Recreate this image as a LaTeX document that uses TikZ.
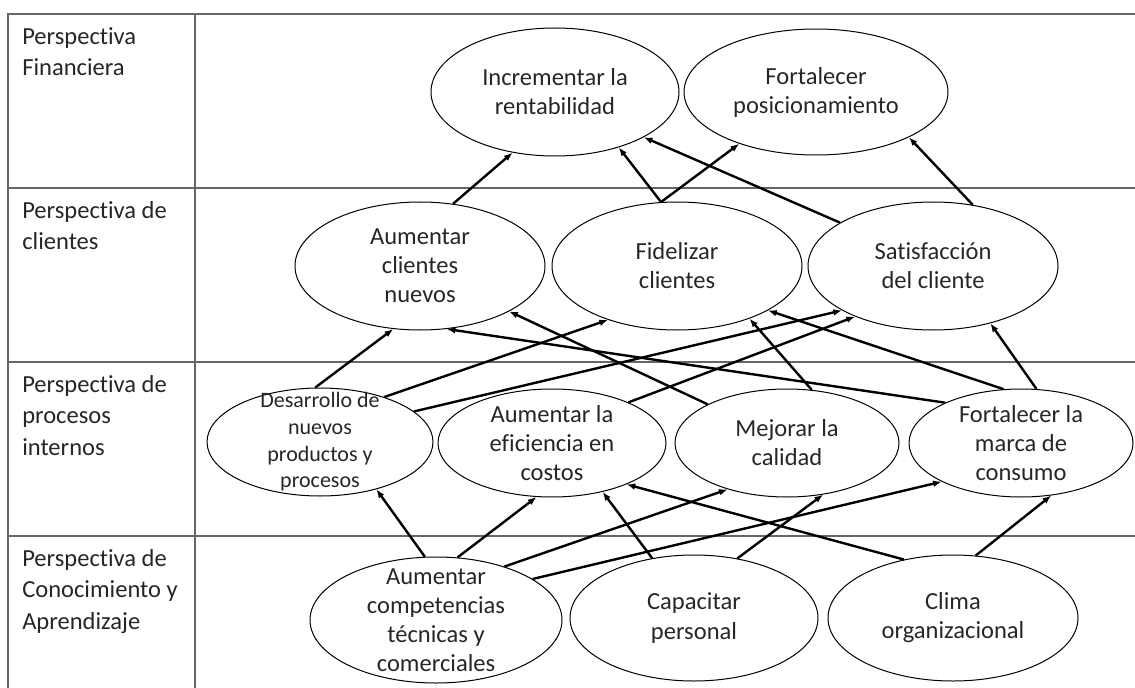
\documentclass[tikz,border=0pt]{standalone}
\usepackage{fontspec}
\setmainfont{Carlito}[Ligatures = NoCommon]
\usetikzlibrary{shapes.geometric,arrows.meta}

\begin{document}
\begin{tikzpicture}[
    x = 0.75pt,
    y = -0.75pt,
    goal/.style = {
        draw,
        ellipse,
        inner sep = 0pt,
        minimum width = 187.5pt,
        minimum height = 96pt,
        line width = 0.75pt
    },
    process/.style = {
        goal,
        minimum width = 169.5pt,
        minimum height = 81pt
    },
    goaltext/.style = {
        align = center,
        text = black!85,
        font = \fontsize{18.4}{21.8}\selectfont
    },
    link/.style = {
        -{Latex[length=6.5pt,width=5pt]},
        line width = 1.8pt
    },
    rowlabel/.style = {
        anchor = north west,
        align = left,
        inner sep = 0pt,
        text = black!85,
        font = \fontsize{18.4}{23.6}\selectfont
    },
    grid/.style = {
        draw = black!60,
        line width = 1.4pt
    }
]

\useasboundingbox (0,0) rectangle (1135,688);

% Table
\draw[grid] (1135,14) -- (8,14) -- (8,688);
\draw[grid] (195,14) -- (195,688);
\foreach \y in {188, 362, 536} {
    \draw[grid] (8,\y) -- (1135,\y);
}

% Perspective labels (rows)
\foreach \i / \y / \label in {1/14/Perspectiva\\Financiera, 2/188/Perspectiva de\\clientes, 3/362/Perspectiva de\\procesos\\internos, 4/536/Perspectiva de\\Conocimiento y\\Aprendizaje} {
    \node[rowlabel] (row\i) at (22, \y+13) {\label};
}

% Financial objectives
\node[goal, minimum width = 186pt, label = {[goaltext]center:Incrementar la\\rentabilidad}] (rent) at (555,92) {};
\node[goal, minimum width = 198pt, minimum height = 94.5pt, label = {[goaltext]center:Fortalecer\\posicionamiento}] (posi) at (816,92) {};

% Client objectives
\node[goal, label = {[goaltext]center:Aumentar\\clientes\\nuevos}] (nuevos) at (420,266) {};
\node[goal, label = {[goaltext]center:Fidelizar\\clientes}] (fideli) at (677,266) {};
\node[goal, label = {[goaltext]center:Satisfacción\\del cliente}] (satis) at (933,266) {};

% Internal process objectives
\node[process, label = {[goaltext, font = \fontsize{16.5}{20}\selectfont]center:Desarrollo de\\nuevos\\productos y\\procesos}] (desar) at (320,442) {};
\node[process, minimum width = 171pt, label = {[goaltext]center:Aumentar la\\eficiencia en\\costos}] (efic) at (552,443) {};
\node[process, minimum width = 168pt, label = {[goaltext]center:Mejorar la\\calidad}] (calid) at (787,443) {};
\node[process, minimum width = 168pt, label = {[goaltext]center:Fortalecer la\\marca de\\consumo}] (marca) at (1021,443) {};

% Learning objectives
\node[goal, minimum width = 189pt, minimum height = 94.5pt, label = {[goaltext]center:Aumentar\\competencias\\técnicas y\\comerciales}] (compet) at (436,620) {};
\node[goal, minimum width = 186pt, minimum height = 94.5pt, label = {[goaltext]center:Capacitar\\personal}] (capac) at (694,618) {};
\node[goal, minimum height = 94.5pt, label = {[goaltext]center:Clima\\organizacional}] (clima) at (953,618) {};

% Clients -> financial
\draw[link] (nuevos.62) -- (rent.235);
\draw[link] (fideli.104) -- (rent.319);
\draw[link] (fideli.104) -- (posi.214);
\draw[link] (satis.155) -- (rent.333);
\draw[link] (satis.57) -- (posi.334);

% Processes -> clients
\draw[link] (desar.95) -- (nuevos.247);
\draw[link] (desar.35) -- (fideli.218);
\draw[link] (desar.18) -- (satis.206);
\draw[link] (efic.28) -- (satis.213);
\draw[link] (calid.154) -- (nuevos.333);
\draw[link] (calid.65) -- (fideli.324);
\draw[link] (marca.152) -- (nuevos.293);
\draw[link] (marca.108) -- (fideli.334);
\draw[link] (marca.74) -- (satis.315);

% Learning -> processes
\draw[link] (compet.100) -- (desar.320);
\draw[link] (compet.71) -- (efic.254);
\draw[link] (compet.38) -- (calid.218);
\draw[link] (compet.23) -- (marca.206);
\draw[link] (capac.125) -- (efic.316);
\draw[link] (capac.54) -- (calid.305);
\draw[link] (clima.130) -- (efic.331);
\draw[link] (clima.70) -- (marca.300);

\end{tikzpicture}
\end{document}
